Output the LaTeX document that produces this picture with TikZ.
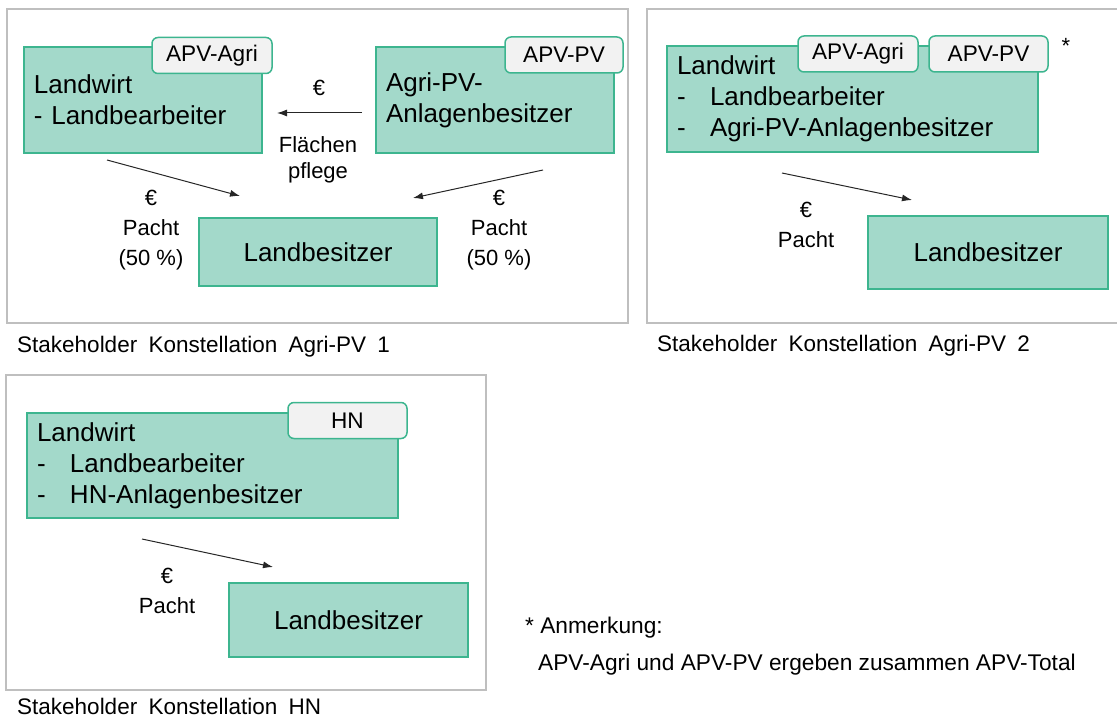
\documentclass[tikz,border=0pt]{standalone}
\usepackage{fontspec}
\setmainfont{Liberation Sans}
\usetikzlibrary{positioning}
\usetikzlibrary{arrows.meta}
\definecolor{boxfill}{HTML}{A3D9CA}
\definecolor{boxline}{HTML}{3DB58F}
\definecolor{tagfill}{HTML}{F2F2F2}
\definecolor{framegray}{HTML}{BFBFBF}
\tikzstyle{actor}=[rectangle,draw=boxline,fill=boxfill,line width=1.5pt,inner xsep=10pt,inner ysep=0pt,align=left,font=\fontsize{26}{31}\selectfont]
\tikzstyle{owner}=[actor,align=center]
\tikzstyle{tag}=[rectangle,rounded corners=6pt,draw=boxline,fill=tagfill,line width=1.5pt,inner sep=0pt,minimum height=36pt,font=\fontsize{22.6}{26}\selectfont]
\tikzstyle{frame}=[draw=framegray,line width=1.2pt]
\tikzstyle{edge} = [draw,line width=1pt,black!85,-{Latex[length=10pt,width=7pt]}]
\tikzstyle{weight} = [align=center,inner sep=0pt,font=\fontsize{22}{30}\selectfont]
\tikzstyle{caption} = [anchor=base west,inner sep=0pt,font=\fontsize{22.5}{27}\selectfont]
\newcommand\listdash{\makebox[33pt][l]{-}}
\newcommand\gap{\hspace{0.5em}}

\begin{document}
\begin{tikzpicture}[x=1pt,y=-1pt]
\useasboundingbox (0,0) rectangle (1117,719);

    % frames of the three constellations
    \draw[frame] (7,9) rectangle (628,323);
    \draw[frame] (647,9) rectangle (1121,323);
    \draw[frame] (6,375) rectangle (486,690);

    % Agri-PV 1
    \node[actor, text width=218pt, minimum height=106pt] (lw1) at (143,100) {Landwirt\\- Landbearbeiter};
    \node[actor, text width=218pt, minimum height=106pt] (pv1) at (495,100) {Agri-PV-\\Anlagenbesitzer};
    \node[owner, text width=218pt, minimum height=68pt] (lb1) at (318,252) {Landbesitzer};

    % Agri-PV 2
    \node[actor, text width=351pt, minimum height=106pt] (lw2) at (852.5,99) {Landwirt\\\listdash Landbearbeiter\\\listdash Agri-PV-Anlagenbesitzer};
    \node[owner, text width=220pt, minimum height=73pt] (lb2) at (988,252.5) {Landbesitzer};

    % HN
    \node[actor, text width=351pt, minimum height=105pt] (lw3) at (212.5,465.5) {Landwirt\\\listdash Landbearbeiter\\\listdash HN-Anlagenbesitzer};
    \node[owner, text width=219pt, minimum height=74pt] (lb3) at (348.5,620) {Landbesitzer};

    % tags on top of the boxes
    \foreach \pos/\name/\w/\label in {{(212,55.5)/t1a/120/APV-Agri}, {(564,55)/t1b/118/APV-PV}, {(858,54)/t2a/120/APV-Agri}, {(988.5,54)/t2b/119/APV-PV}, {(347.5,420.5)/t3/119/HN}}
        \node[tag, minimum width=\w*1pt] (\name) at \pos {\label};

    % money flows
    \coordinate (f1s) at (362,113);
    \coordinate (f1e) at (277,113);
    \coordinate (p1s) at (107,160);
    \coordinate (p1e) at (240,196);
    \coordinate (q1s) at (543,170);
    \coordinate (q1e) at (413,198);
    \coordinate (p2s) at (782,173);
    \coordinate (p2e) at (912,200);
    \coordinate (p3s) at (142,539);
    \coordinate (p3e) at (273,567);
    \foreach \source/\dest in {f1s/f1e, p1s/p1e, q1s/q1e, p2s/p2e, p3s/p3e}
        \path[edge] (\source) -- (\dest);

    \node[weight] (euro1) at (319,88) {€};
    \node[weight, font=\fontsize{22}{26}\selectfont] (flaeche1) at (318,160) {Flächen\\pflege};
    \foreach \pos/\name in {{(151,230)/pacht1l}, {(499,230)/pacht1r}}
        \node[weight] (\name) at \pos {€\\Pacht\\(50 \%)};
    \foreach \pos/\name in {{(806,225)/pacht2}, {(167,591)/pacht3}}
        \node[weight] (\name) at \pos {€\\Pacht};

    % captions and note
    \node[caption] (cap1) at (17,353) {Stakeholder\gap Konstellation\gap Agri-PV\gap 1};
    \node[caption] (cap2) at (657,352) {Stakeholder\gap Konstellation\gap Agri-PV\gap 2};
    \node[caption] (cap3) at (17,714) {Stakeholder\gap Konstellation\gap HN};
    \node[weight] (star) at (1066,46) {*};
    \node[caption, font=\fontsize{22.7}{27}\selectfont] (note1) at (525,633) {* Anmerkung:};
    \node[caption, font=\fontsize{22.7}{27}\selectfont] (note2) at (538,670) {APV-Agri und APV-PV ergeben zusammen APV-Total};

\end{tikzpicture}
\end{document}
